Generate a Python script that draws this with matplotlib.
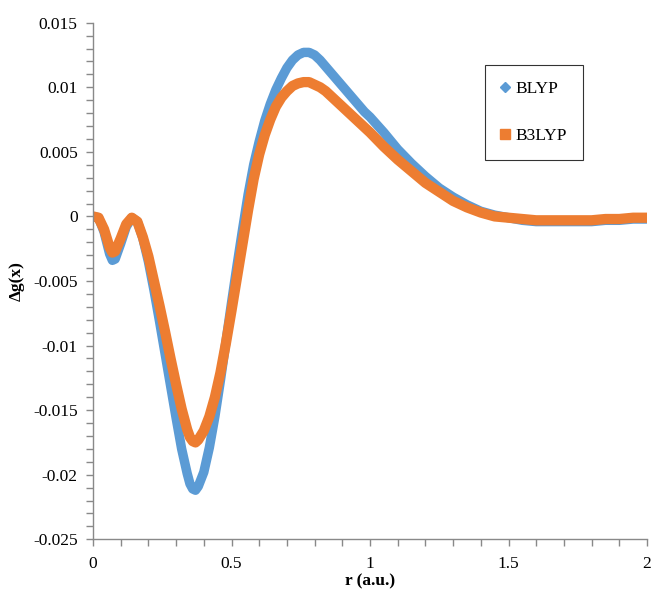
import matplotlib.pyplot as plt
import matplotlib.ticker as ticker
from matplotlib.lines import Line2D

# dados (r em a.u.)
r = [0.00, 0.02, 0.04, 0.06, 0.07, 0.08, 0.10, 0.12, 0.14, 0.16, 0.18,
     0.20, 0.22, 0.24, 0.26, 0.28, 0.30, 0.32, 0.34, 0.35, 0.36, 0.37, 0.38,
     0.40, 0.42, 0.44, 0.46, 0.48, 0.50, 0.52, 0.54, 0.56, 0.58,
     0.60, 0.62, 0.64, 0.66, 0.68, 0.70, 0.72, 0.74, 0.76, 0.78,
     0.80, 0.82, 0.84, 0.86, 0.88, 0.90, 0.92, 0.94, 0.96, 0.98,
     1.00, 1.05, 1.10, 1.15, 1.20, 1.25, 1.30, 1.35, 1.40, 1.45,
     1.50, 1.55, 1.60, 1.65, 1.70, 1.75, 1.80, 1.85, 1.90, 1.95, 2.00]

blyp = [0.0000, -0.0001, -0.0012, -0.0029, -0.0034, -0.0033, -0.0021, -0.0008, -0.0001, -0.0004, -0.0017,
        -0.0035, -0.0057, -0.0081, -0.0106, -0.0131, -0.0156, -0.0180, -0.0199, -0.0207, -0.0211, -0.0212, -0.0209,
        -0.0198, -0.0179, -0.0155, -0.0127, -0.0097, -0.0067, -0.0038, -0.0010, 0.0017, 0.0040,
        0.0058, 0.0074, 0.0087, 0.0098, 0.0107, 0.0115, 0.0121, 0.0125, 0.0127, 0.0127,
        0.0125, 0.0121, 0.0116, 0.0111, 0.0106, 0.0101, 0.0096, 0.0091, 0.0086, 0.0081,
        0.0077, 0.0065, 0.0052, 0.0041, 0.0031, 0.0022, 0.0015, 0.0009, 0.0004, 0.0001,
        -0.0001, -0.0003, -0.0004, -0.0004, -0.0004, -0.0004, -0.0004, -0.0003, -0.0003, -0.0002, -0.0002]

b3lyp = [0.0000, -0.0001, -0.0010, -0.0024, -0.0028, -0.0027, -0.0017, -0.0006, -0.0001, -0.0004, -0.0016,
         -0.0031, -0.0050, -0.0069, -0.0089, -0.0110, -0.0130, -0.0149, -0.0165, -0.0171, -0.0174, -0.0175, -0.0173,
         -0.0166, -0.0155, -0.0140, -0.0121, -0.0098, -0.0073, -0.0047, -0.0021, 0.0005, 0.0029,
         0.0048, 0.0063, 0.0075, 0.0085, 0.0092, 0.0097, 0.0101, 0.0103, 0.0104, 0.0104,
         0.0102, 0.0100, 0.0097, 0.0093, 0.0089, 0.0085, 0.0081, 0.0077, 0.0073, 0.0069,
         0.0065, 0.0054, 0.0044, 0.0035, 0.0026, 0.0019, 0.0012, 0.0007, 0.0003, 0.0000,
         -0.0001, -0.0002, -0.0003, -0.0003, -0.0003, -0.0003, -0.0003, -0.0002, -0.0002, -0.0001, -0.0001]

azul = '#5B9BD5'
laranja = '#ED7D31'
cinza = '#898989'

plt.rcParams['font.family'] = ['Liberation Serif', 'DejaVu Serif']

fig = plt.figure(figsize=(6.52, 5.92), dpi=100)
ax = fig.add_axes([93 / 652, 1 - 539.3 / 592, 554 / 652, 516.6 / 592])

ax.plot(r, blyp, color=azul, lw=6.8, solid_capstyle='butt', solid_joinstyle='round')
ax.plot(r, b3lyp, color=laranja, lw=7.4, solid_capstyle='butt', solid_joinstyle='round')

ax.set_xlim(0, 2)
ax.set_ylim(-0.025, 0.015)
ax.xaxis.set_major_locator(ticker.MultipleLocator(0.5))
ax.xaxis.set_minor_locator(ticker.MultipleLocator(0.1))
ax.yaxis.set_major_locator(ticker.MultipleLocator(0.005))
ax.yaxis.set_minor_locator(ticker.MultipleLocator(0.001))

fmt = ticker.FuncFormatter(lambda v, p: f"{round(v, 4) + 0:g}")
ax.xaxis.set_major_formatter(fmt)
ax.yaxis.set_major_formatter(fmt)

for s in ['top', 'right']:
    ax.spines[s].set_visible(False)
for s in ['left', 'bottom']:
    ax.spines[s].set_color(cinza)
    ax.spines[s].set_linewidth(1.0)

ax.tick_params(which='both', direction='out', color=cinza, width=1.0, length=5)
ax.tick_params(axis='y', which='major', labelsize=12.5, pad=6)
ax.tick_params(axis='x', which='major', labelsize=12.5, pad=7)

ax.set_xlabel('r (a.u.)', fontsize=12.5, fontweight='bold', labelpad=1)
ax.set_ylabel('Δg(x)', fontsize=12.5, fontweight='bold', labelpad=6)

handles = [Line2D([], [], ls='none', marker='D', markersize=5, color=azul),
           Line2D([], [], ls='none', marker='s', markersize=7, color=laranja)]
leg = ax.legend(handles, ['BLYP', 'B3LYP'], loc='upper left',
                bbox_to_anchor=(485 / 652, 1 - 65 / 592), bbox_transform=fig.transFigure,
                fontsize=12.5, frameon=True, fancybox=False, borderpad=0.9,
                labelspacing=1.8, handlelength=0.5, handletextpad=0.35,
                borderaxespad=0)
leg.get_frame().set_edgecolor('black')
leg.get_frame().set_linewidth(0.8)

fig.savefig('out.png', dpi=100)
